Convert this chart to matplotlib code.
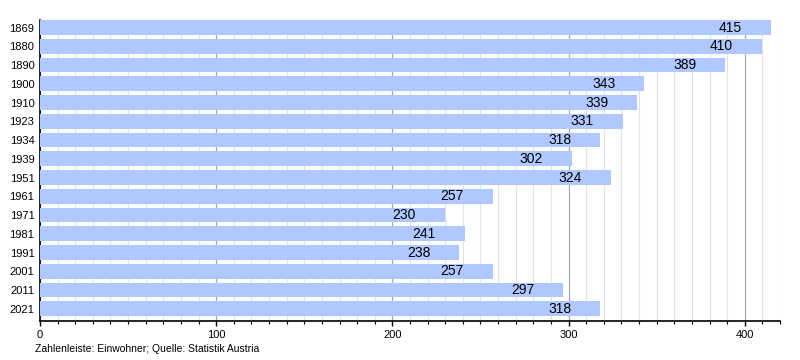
import matplotlib
matplotlib.use("Agg")
import matplotlib.pyplot as plt
from matplotlib.ticker import MultipleLocator

plt.rcParams['font.family'] = ['Liberation Sans', 'DejaVu Sans']

years = ["1869", "1880", "1890", "1900", "1910", "1923", "1934", "1939", "1951",
         "1961", "1971", "1981", "1991", "2001", "2011", "2021"]
population = [415, 410, 389, 343, 339, 331, 318, 302, 324, 257, 230, 241, 238, 257, 297, 318]
footer = "Zahlenleiste: Einwohner; Quelle: Statistik Austria"

fig = plt.figure(figsize=(8, 3.6), dpi=100)
ax = fig.add_axes([0.05, 0.1083, 0.925, 0.836])

ypos = list(range(len(years)))
ax.barh(ypos, population, height=0.79, color="#b0c8ff", zorder=3)
for y, v in zip(ypos, population):
    ax.annotate(str(v), xy=(v, y), xytext=(-21, 0), textcoords="offset points",
                ha="right", va="center", fontsize=10, color="black", zorder=4)

ax.set_xlim(0, 420)
ax.set_ylim(len(years) - 0.35, -0.4)
ax.set_yticks(ypos)
ax.set_yticklabels(years, fontsize=8)
ax.tick_params(axis='y', length=0, pad=4)

ax.xaxis.set_major_locator(MultipleLocator(100))
ax.xaxis.set_minor_locator(MultipleLocator(10))
ax.tick_params(axis='x', which='major', length=3.6, width=1, labelsize=8, pad=3)
ax.tick_params(axis='x', which='minor', length=2.2, width=0.8)
ax.grid(axis='x', which='major', color="#a8a8a8", linewidth=0.9, zorder=1)
ax.grid(axis='x', which='minor', color="#e2e2e2", linewidth=0.8, zorder=0)
ax.set_axisbelow(True)

for s in ['top', 'right']:
    ax.spines[s].set_visible(False)
ax.spines['left'].set_color('black')
ax.spines['bottom'].set_color('black')
ax.spines['left'].set_linewidth(1.2)
ax.spines['bottom'].set_linewidth(1.2)

fig.text(0.044, 0.016, footer, fontsize=7.5, ha='left', va='bottom')

fig.savefig("out.png", dpi=100)
